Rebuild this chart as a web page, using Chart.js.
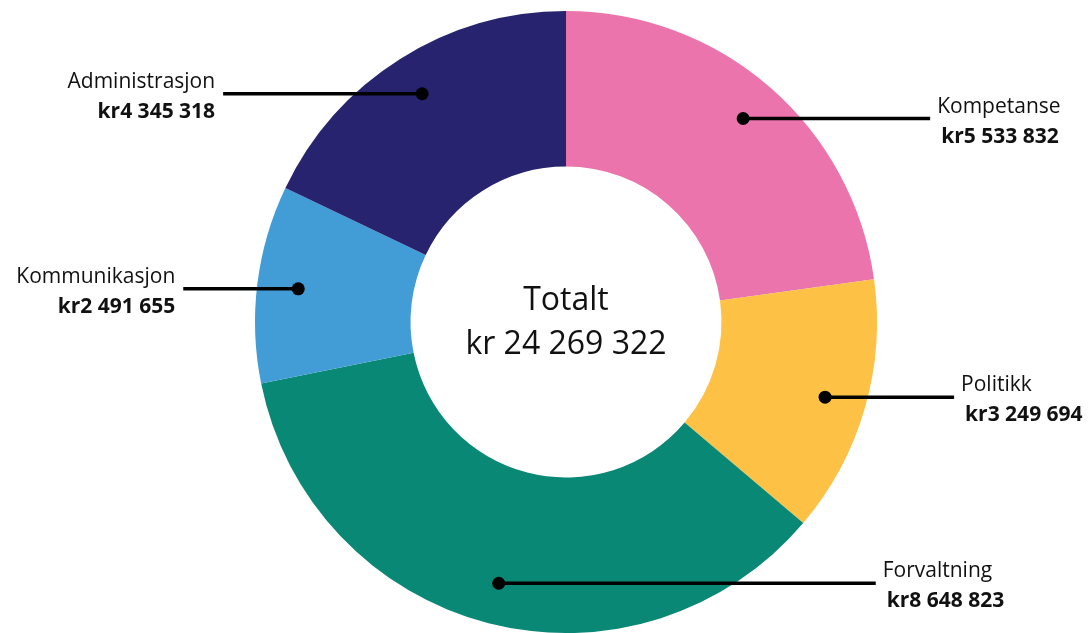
<!DOCTYPE html>
<html lang="no">
<head>
<meta charset="utf-8">
<title>Kostnader fordelt på område</title>
<script src="https://cdn.jsdelivr.net/npm/chart.js@4/dist/chart.umd.min.js"></script>
<style>
  html, body { margin: 0; padding: 0; background: #fff; }
  #wrap { width: 1092px; height: 633px; position: relative; }
</style>
</head>
<body>
<div id="wrap"><canvas id="budgetChart" width="1092" height="633"></canvas></div>
<script>
// Data, clockwise from the top
const categories = ['Kompetanse', 'Politikk', 'Forvaltning', 'Kommunikasjon', 'Administrasjon'];
const amounts = [5533832, 3249694, 8648823, 2491655, 4345318];
const amountLabels = ['kr5 533 832', 'kr3 249 694', 'kr8 648 823', 'kr2 491 655', 'kr4 345 318'];
const totalTitle = 'Totalt';
const totalLabel = 'kr 24 269 322';

// Styling (kept apart from the data)
const sliceColors = ['#EB74AC', '#FDC145', '#0A8876', '#429CD6', '#27236E'];
const leaderLength = [187, 129, 377, 115, 199]; // how far each leader line runs out
const labelSide = ['right', 'right', 'right', 'left', 'left'];
const FONT = '"Open Sans", "DejaVu Sans", sans-serif';

/**
 * Draws the dot + leader line + two-line label for every slice,
 * and the total in the hole.
 */
const calloutPlugin = {
  id: 'callouts',
  afterDraw(chart) {
    const ctx = chart.ctx;
    const arcs = chart.getDatasetMeta(0).data;

    arcs.forEach((arc, i) => {
      const mid = (arc.startAngle + arc.endAngle) / 2;
      const r = arc.innerRadius + (arc.outerRadius - arc.innerRadius) * 0.735;
      const px = arc.x + Math.cos(mid) * r;
      const py = arc.y + Math.sin(mid) * r;
      const onRight = labelSide[i] === 'right';
      const endX = onRight ? px + leaderLength[i] : px - leaderLength[i];

      ctx.save();
      ctx.strokeStyle = '#000';
      ctx.lineWidth = 3.5;
      ctx.beginPath();
      ctx.moveTo(px, py);
      ctx.lineTo(endX, py);
      ctx.stroke();

      ctx.fillStyle = '#000';
      ctx.beginPath();
      ctx.arc(px, py, 6.5, 0, Math.PI * 2);
      ctx.fill();

      ctx.fillStyle = '#111';
      ctx.textBaseline = 'alphabetic';
      if (onRight) {
        ctx.textAlign = 'left';
        ctx.font = '21px ' + FONT;
        ctx.fillText(categories[i], endX + 7, py - 6);
        ctx.font = 'bold 21px ' + FONT;
        ctx.fillText(amountLabels[i], endX + 11, py + 24);
      } else {
        ctx.textAlign = 'right';
        ctx.font = '21px ' + FONT;
        ctx.fillText(categories[i], endX - 8, py - 6);
        ctx.font = 'bold 21px ' + FONT;
        ctx.fillText(amountLabels[i], endX - 8, py + 24);
      }
      ctx.restore();
    });

    // Total in the middle
    const first = arcs[0];
    ctx.save();
    ctx.fillStyle = '#111';
    ctx.textAlign = 'center';
    ctx.textBaseline = 'alphabetic';
    ctx.font = '32px ' + FONT;
    ctx.fillText(totalTitle, first.x, first.y - 12);
    ctx.fillText(totalLabel, first.x, first.y + 32);
    ctx.restore();
  }
};

document.addEventListener('DOMContentLoaded', () => {
  const ctx = document.getElementById('budgetChart').getContext('2d');
  new Chart(ctx, {
    type: 'doughnut',
    data: {
      labels: categories,
      datasets: [{
        data: amounts,
        backgroundColor: sliceColors,
        borderWidth: 0,
      }]
    },
    options: {
      responsive: false,
      animation: false,
      cutout: '50%',
      layout: { padding: { top: 11, bottom: 0, left: 40, right: 0 } },
      plugins: {
        legend: { display: false },
        tooltip: { enabled: false }
      }
    },
    plugins: [calloutPlugin]
  });
});
</script>
</body>
</html>
